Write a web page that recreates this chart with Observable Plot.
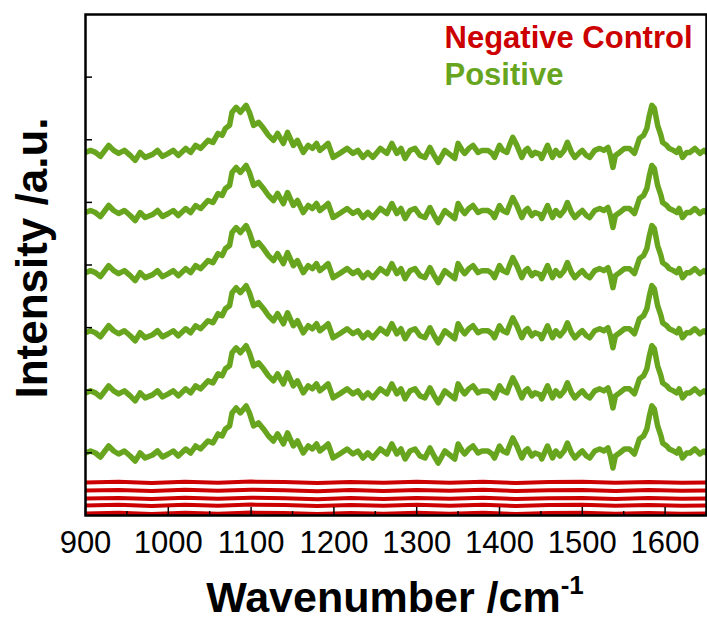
<!DOCTYPE html>
<html>
<head>
<meta charset="utf-8">
<script src="https://cdn.jsdelivr.net/npm/d3@7"></script>
<script src="https://cdn.jsdelivr.net/npm/@observablehq/plot@0.6"></script>
<style>
  html, body { margin: 0; padding: 0; background: #fff; }
  #chart { width: 707px; height: 623px; }
  svg { font-family: "Liberation Sans", Arial, sans-serif; }
</style>
</head>
<body>
<div id="chart"></div>
<script>
// Wavenumbers (cm^-1) of the positive spectrum samples
const wavenumbers = [900,906,912,918,928,934,940,947,954,960,966,972,981,987,993,1000,1006,1012,1021,1027,1033,1039,1048,1054,1060,1065,1069,1074,1077,1082,1087,1091,1094,1098,1103,1109,1115,1121,1127,1132,1139,1144,1151,1156,1163,1169,1174,1179,1183,1189,1193,1199,1207,1216,1223,1229,1235,1241,1247,1256,1264,1270,1276,1281,1286,1292,1298,1304,1310,1316,1321,1326,1334,1340,1346,1350,1355,1358,1363,1368,1374,1379,1386,1391,1394,1400,1404,1409,1412,1416,1421,1427,1431,1434,1439,1443,1449,1451,1458,1464,1468,1473,1478,1482,1487,1491,1497,1500,1505,1509,1515,1521,1526,1531,1534,1537,1540,1545,1551,1557,1563,1569,1574,1578,1581,1584,1587,1591,1595,1597,1602,1605,1610,1614,1617,1621,1626,1630,1636,1642,1647,1650];
// Relative intensity (a.u.) of the positive spectrum above its baseline
const positiveIntensity = [128,160,128,64,240,160,112,160,80,0,128,48,96,160,64,112,160,80,192,128,240,192,320,288,432,400,512,560,768,848,768,832,880,768,560,608,512,400,320,432,272,448,240,320,128,240,192,272,160,224,272,48,112,192,112,160,48,128,48,192,112,272,112,192,32,160,192,80,48,208,80,-32,160,96,32,272,160,112,192,240,128,160,160,112,48,240,160,128,240,368,240,48,160,192,80,128,96,32,240,48,160,80,160,288,128,48,128,160,80,48,160,192,160,208,80,-112,80,128,192,192,112,352,400,512,720,880,832,560,400,288,240,192,160,128,192,48,128,128,192,112,160,128];
// Vertical offsets (a.u.) of the six stacked positive spectra
const positiveOffsets = [5670, 4710, 3750, 2790, 1830, 870];

// Negative control spectra
const negativeWavenumbers = [900,940,980,1020,1060,1100,1140,1180,1220,1260,1300,1340,1380,1420,1460,1500,1540,1580,1620,1650];
const negativeIntensity = [0,10,-8,12,-4,14,6,-10,8,-6,10,-4,12,-8,6,10,-6,8,-4,0];
const negativeOffsets = [527, 399, 271, 160, 32];

// Axis ticks
const xTicks = [900,1000,1100,1200,1300,1400,1500,1600];
const xMinorTicks = [950,1050,1150,1250,1350,1450,1550,1650];
const yTicks = [1000,2000,3000,4000,5000,6000,7000];

const legendLabels = ["Negative Control", "Positive"];
const colors = { negative: "#cc0000", positive: "#68a51e" };

const positiveData = positiveOffsets.flatMap((o, i) =>
  wavenumbers.map((w, j) => ({ x: w, y: positiveIntensity[j] + o, s: i })));
const negativeData = negativeOffsets.flatMap((o, i) =>
  negativeWavenumbers.map((w, j) => ({ x: w, y: negativeIntensity[j] + o, s: i })));

const yPerPx = 8000 / 501;
const xPerPx = 750 / 621;

const plot = Plot.plot({
  width: 707,
  height: 623,
  marginLeft: 85,
  marginRight: 1,
  marginTop: 14,
  marginBottom: 108,
  style: { fontFamily: "'Liberation Sans', Arial, sans-serif", background: "#fff" },
  x: { domain: [900, 1650] },
  y: { domain: [0, 8000] },
  marks: [
    Plot.line(negativeData, { x: "x", y: "y", z: "s", stroke: colors.negative, strokeWidth: 4, clip: true }),
    Plot.line(positiveData, { x: "x", y: "y", z: "s", stroke: colors.positive, strokeWidth: 5.5, strokeLinejoin: "round", clip: true }),
    Plot.ruleX(xTicks, { x: d => d, y1: 0, y2: 8 * yPerPx, stroke: "#000", strokeWidth: 1.5 }),
    Plot.ruleX(xMinorTicks, { x: d => d, y1: 0, y2: 4 * yPerPx, stroke: "#000", strokeWidth: 1.5 }),
    Plot.ruleY(yTicks, { y: d => d, x1: 900, x2: 900 + 7 * xPerPx, stroke: "#000", strokeWidth: 1.5 }),
    Plot.axisX({ ticks: xTicks, tickSize: 0, tickPadding: 15, fontSize: 31, tickFormat: d => String(d), label: null }),
    Plot.axisY({ ticks: [], label: null }),
    Plot.frame({ stroke: "#000", strokeWidth: 2.5 }),
    Plot.text([legendLabels[0]], { frameAnchor: "top-left", dx: 359, dy: 11, text: d => d, fill: colors.negative, fontSize: 31, fontWeight: "bold", textAnchor: "start", lineAnchor: "top" }),
    Plot.text([legendLabels[1]], { frameAnchor: "top-left", dx: 359, dy: 48, text: d => d, fill: colors.positive, fontSize: 31, fontWeight: "bold", textAnchor: "start", lineAnchor: "top" })
  ]
});

document.getElementById("chart").appendChild(plot);

const svg = d3.select(plot);
const xt = svg.append("text")
  .attr("x", 395).attr("y", 612)
  .attr("text-anchor", "middle")
  .attr("font-size", 43).attr("font-weight", "bold")
  .attr("font-family", "'Liberation Sans', Arial, sans-serif")
  .attr("fill", "#000");
xt.append("tspan").text("Wavenumber /cm");
xt.append("tspan").attr("font-size", 26).attr("dy", -18).text("-1");

svg.append("text")
  .attr("transform", "translate(47,258) rotate(-90)")
  .attr("text-anchor", "middle")
  .attr("font-size", 44).attr("font-weight", "bold")
  .attr("font-family", "'Liberation Sans', Arial, sans-serif")
  .attr("fill", "#000")
  .text("Intensity /a.u.");
</script>
</body>
</html>
